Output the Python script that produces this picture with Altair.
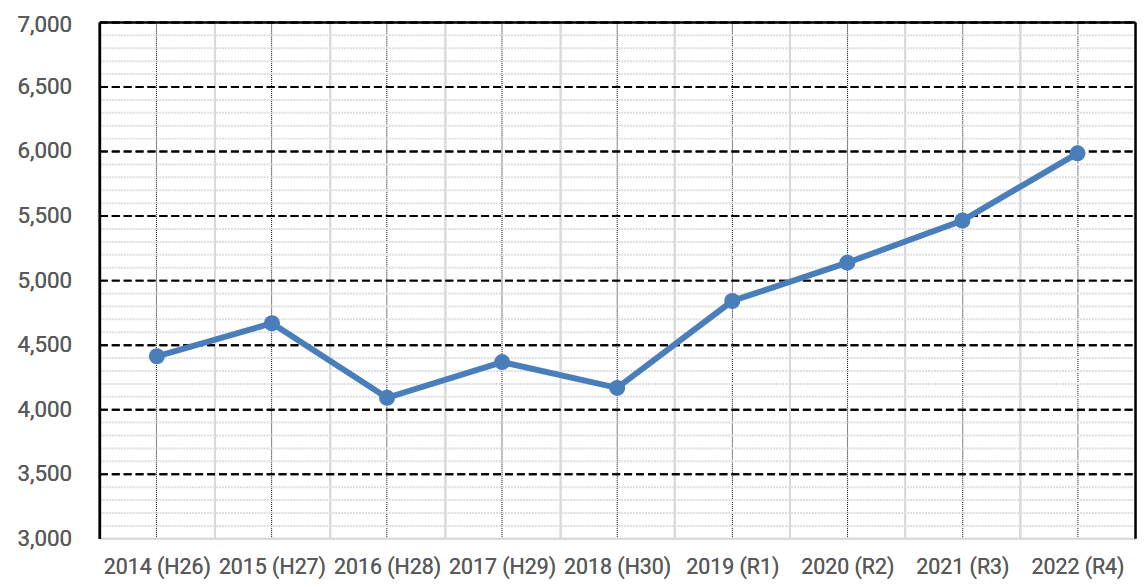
import altair as alt
import pandas as pd

years = ["2014 (H26)", "2015 (H27)", "2016 (H28)", "2017 (H29)", "2018 (H30)",
         "2019 (R1)", "2020 (R2)", "2021 (R3)", "2022 (R4)"]
values = [4410, 4666, 4088, 4365, 4165, 4838, 5135, 5462, 5982]
major_ticks = [3000, 3500, 4000, 4500, 5000, 5500, 6000, 6500, 7000]
minor_ticks = [v for v in range(3100, 7000, 100) if v % 500 != 0]

df = pd.DataFrame({"year": years, "value": values})

FONT = "Roboto"
LABEL_COLOR = "#595959"
LINE_COLOR = "#4A7EBB"

xscale = alt.Scale(type="band", paddingInner=0, paddingOuter=0, domain=years)
yscale = alt.Scale(domain=[3000, 7000], nice=False, zero=False)

x_bottom = alt.X("year:N", sort=years, scale=xscale, title=None,
                 axis=alt.Axis(orient="bottom", labelAngle=0, labelFont=FONT,
                               labelFontSize=21.5, labelColor=LABEL_COLOR,
                               labelPadding=18, ticks=False, tickBand="extent",
                               domainColor="#d9d9d9", domainWidth=2,
                               grid=True, gridColor="#d9d9d9", gridWidth=2,
                               labelOverlap=False))
y_left = alt.Y("value:Q", scale=yscale, title=None,
               axis=alt.Axis(orient="left", values=major_ticks, format=",d",
                             labelFont=FONT, labelFontSize=22.5,
                             labelColor=LABEL_COLOR, labelPadding=28,
                             labelOffset={"condition": {"test": "datum.value >= 7000", "value": 3}, "value": 0},
                             ticks=False, domainColor="black", domainWidth=2.5,
                             grid=True, gridColor="black", gridWidth=2,
                             gridDash=[8, 4],
                             gridOpacity={"condition": {"test": "datum.value <= 3000", "value": 0}, "value": 1}))

line = alt.Chart(df).mark_line(color=LINE_COLOR, strokeWidth=6).encode(x=x_bottom, y=y_left)
pts = alt.Chart(df).mark_point(color=LINE_COLOR, filled=True, opacity=1, size=260).encode(x=x_bottom, y=y_left)

x_top = alt.X("year:N", sort=years, scale=xscale, title=None,
              axis=alt.Axis(orient="top", labels=False, ticks=False,
                            domainColor="black", domainWidth=2.5,
                            grid=True, gridColor="black", gridWidth=1,
                            gridDash=[1, 1]))
y_right = alt.Y("value:Q", scale=yscale, title=None,
                axis=alt.Axis(orient="right", values=minor_ticks, labels=False,
                              ticks=False, domainColor="black", domainWidth=2.5,
                              grid=True, gridColor="#dedede", gridWidth=2,
                              gridDash=[2, 1]))
frame = alt.Chart(df).mark_point(opacity=0).encode(x=x_top, y=y_right)

chart = alt.layer(frame, line, pts).resolve_axis(x="independent", y="independent").properties(
    width=1043, height=520,
    autosize=alt.AutoSizeParams(type="none"),
    padding={"left": 92, "top": 12, "right": 4, "bottom": 47},
).configure_view(stroke=None)

chart.save("out.html", embed_options={"renderer": "svg", "actions": False})
